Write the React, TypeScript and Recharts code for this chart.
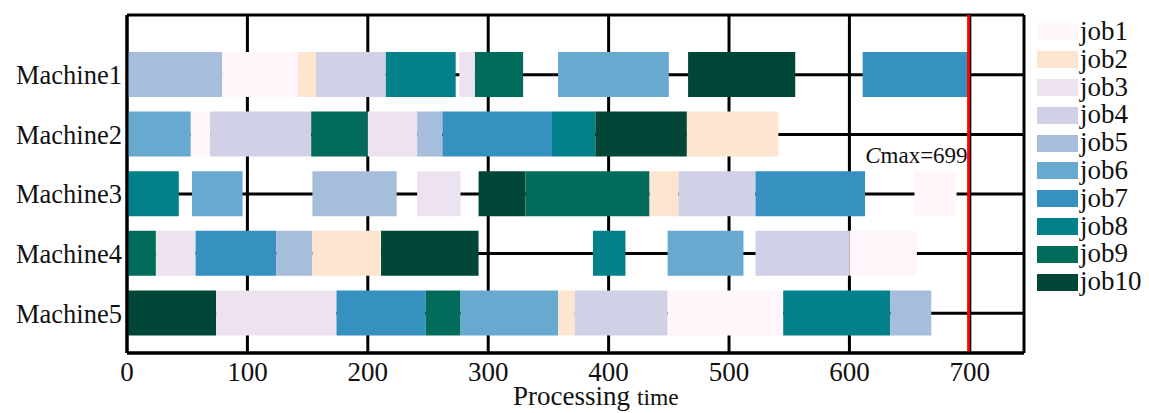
import React from 'react';
import { ComposedChart, Bar, Cell, XAxis, YAxis, CartesianGrid, ReferenceLine } from 'recharts';

const FONT = '"Liberation Serif", "Times New Roman", serif';

const jobNames = ['job1', 'job2', 'job3', 'job4', 'job5', 'job6', 'job7', 'job8', 'job9', 'job10'];
const jobColors = ['#fff5fa', '#fde5cf', '#ece2f0', '#d0d1e6', '#a6bddb', '#67a9cf', '#3690c0', '#02818a', '#016c59', '#014636'];

const machines = ['Machine1', 'Machine2', 'Machine3', 'Machine4', 'Machine5'];

const m1Jobs = [5, 1, 2, 4, 8, 3, 9, 6, 10, 7];
const m1Starts = [0, 79, 142, 157, 215, 276, 289, 358, 466, 611];
const m1Ends = [79, 142, 157, 215, 273, 289, 329, 450, 555, 699];

const m2Jobs = [6, 1, 4, 9, 3, 5, 7, 8, 10, 2];
const m2Starts = [0, 53, 69, 153, 200, 241, 262, 353, 389, 465];
const m2Ends = [53, 69, 153, 200, 241, 262, 353, 389, 465, 541];

const m3Jobs = [8, 6, 5, 3, 10, 9, 2, 4, 7, 1];
const m3Starts = [0, 54, 154, 241, 292, 331, 434, 458, 522, 654];
const m3Ends = [43, 96, 224, 277, 331, 434, 458, 522, 613, 689];

const m4Jobs = [9, 3, 7, 5, 2, 10, 8, 6, 4, 1];
const m4Starts = [0, 24, 57, 124, 154, 211, 387, 449, 522, 600];
const m4Ends = [24, 57, 124, 154, 211, 292, 414, 512, 600, 656];

const m5Jobs = [10, 3, 7, 9, 6, 2, 4, 1, 8, 5];
const m5Starts = [0, 74, 174, 248, 277, 358, 372, 449, 545, 634];
const m5Ends = [74, 174, 248, 277, 358, 372, 449, 545, 634, 668];

const xTicks = [0, 100, 200, 300, 400, 500, 600, 700];
const xMax = 745;
const cmax = 699;

const schedule = [
  [m1Jobs, m1Starts, m1Ends],
  [m2Jobs, m2Starts, m2Ends],
  [m3Jobs, m3Starts, m3Ends],
  [m4Jobs, m4Starts, m4Ends],
  [m5Jobs, m5Starts, m5Ends],
];

// build stacked segments (gaps are invisible)
const segFills: string[][] = [];
const rows: any[] = schedule.map(([jobs, starts, ends], mi) => {
  const row: any = { name: machines[mi] };
  const fills: string[] = [];
  let prev = 0;
  let k = 0;
  jobs.forEach((j, t) => {
    if (starts[t] > prev) {
      row[`seg${k}`] = starts[t] - prev;
      fills.push('none');
      k++;
    }
    row[`seg${k}`] = ends[t] - starts[t];
    fills.push(jobColors[j - 1]);
    k++;
    prev = ends[t];
  });
  segFills.push(fills);
  return row;
});
const nSeg = Math.max(...segFills.map((f) => f.length));
rows.forEach((r) => {
  for (let k = 0; k < nSeg; k++) if (r[`seg${k}`] === undefined) r[`seg${k}`] = 0;
});

const CmaxLabel = (props: any) => {
  const vb = props.viewBox || {};
  return (
    <text x={vb.x - 1} y={vb.y + 148} textAnchor="end" fontFamily={FONT} fontSize={23} fill="#111">
      <tspan fontStyle="italic">C</tspan>
      <tspan>max={cmax}</tspan>
    </text>
  );
};

const XLabel = (props: any) => {
  const vb = props.viewBox || {};
  const cx = vb.x + vb.width / 2;
  const y = vb.y + 52;
  return (
    <g fontFamily={FONT} fill="#111">
      <text x={cx - 62.5} y={y} fontSize={27}>
        Processing
      </text>
      <text x={cx + 61.5} y={y} fontSize={23.5}>
        time
      </text>
    </g>
  );
};

export default function App() {
  return (
    <div style={{ position: 'relative', width: 1141, height: 405 }}>
      <ComposedChart
        width={1141}
        height={405}
        data={rows}
        layout="vertical"
        margin={{ top: 7, right: 125, bottom: 0, left: 0 }}
        barCategoryGap={0}
      >
        <CartesianGrid stroke="#000" strokeWidth={3} />
        <XAxis
          type="number"
          domain={[0, xMax]}
          ticks={xTicks}
          allowDataOverflow
          tickLine={false}
          tickSize={6}
          tickMargin={3}
          axisLine={{ stroke: '#000', strokeWidth: 3 }}
          tick={{ fontFamily: FONT, fontSize: 27, fill: '#111' }}
          height={60}
          label={<XLabel />}
        />
        <XAxis
          xAxisId="top"
          orientation="top"
          type="number"
          domain={[0, xMax]}
          tick={false}
          tickLine={false}
          height={0}
          axisLine={{ stroke: '#222', strokeWidth: 3 }}
        />
        <YAxis
          type="category"
          dataKey="name"
          width={119}
          padding={{ top: 30, bottom: 10 }}
          tickLine={false}
          tickSize={0}
          tickMargin={5}
          axisLine={{ stroke: '#000', strokeWidth: 3 }}
          tick={{ fontFamily: FONT, fontSize: 26.5, fill: '#111' }}
        />
        <YAxis
          yAxisId="right"
          orientation="right"
          type="category"
          dataKey="name"
          width={0}
          tick={false}
          tickLine={false}
          axisLine={{ stroke: '#222', strokeWidth: 3 }}
        />
        {Array.from({ length: nSeg }, (_, k) => (
          <Bar key={k} dataKey={`seg${k}`} stackId="g" barSize={45} isAnimationActive={false}>
            {rows.map((_r, i) => (
              <Cell key={i} fill={segFills[i][k] || 'none'} />
            ))}
          </Bar>
        ))}
        <ReferenceLine x={cmax} stroke="#ff0000" strokeWidth={3} label={<CmaxLabel />} />
      </ComposedChart>
      <div style={{ position: 'absolute', left: 1029, top: 10, fontFamily: FONT }}>
        {jobNames.map((n, i) => (
          <div key={n} style={{ display: 'flex', alignItems: 'center', height: 27.8 }}>
            <div style={{ width: 41, height: 17, background: jobColors[i] }} />
            <span style={{ fontSize: 27, lineHeight: '27.8px', color: '#111', marginLeft: 2 }}>{n}</span>
          </div>
        ))}
      </div>
    </div>
  );
}
